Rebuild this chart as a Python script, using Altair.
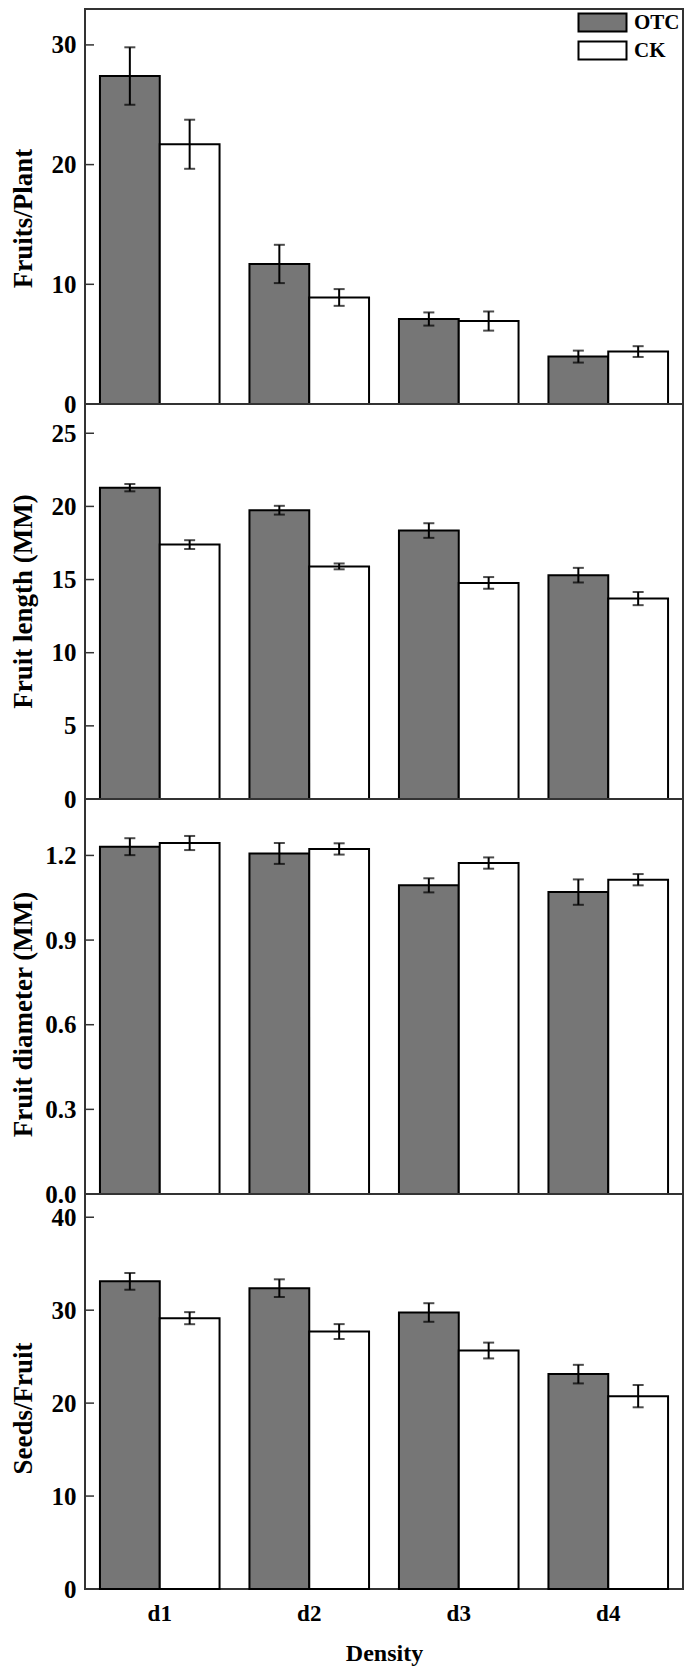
import altair as alt
import pandas as pd

FONT = "Liberation Serif"
GRAY = "#767676"

densities = ["d1", "d2", "d3", "d4"]
groups = ["OTC", "CK"]

fruits_otc = [27.4, 11.7, 7.1, 3.96]
fruits_otc_err = [2.4, 1.6, 0.55, 0.5]
fruits_ck = [21.7, 8.9, 6.93, 4.38]
fruits_ck_err = [2.05, 0.7, 0.8, 0.45]

length_otc = [21.28, 19.74, 18.35, 15.3]
length_otc_err = [0.25, 0.3, 0.5, 0.5]
length_ck = [17.39, 15.9, 14.77, 13.7]
length_ck_err = [0.3, 0.2, 0.4, 0.45]

diam_otc = [1.231, 1.207, 1.094, 1.070]
diam_otc_err = [0.03, 0.037, 0.025, 0.045]
diam_ck = [1.244, 1.223, 1.173, 1.114]
diam_ck_err = [0.025, 0.02, 0.02, 0.02]

seeds_otc = [33.1, 32.37, 29.75, 23.12]
seeds_otc_err = [0.9, 0.95, 1.0, 1.0]
seeds_ck = [29.14, 27.7, 25.66, 20.75]
seeds_ck_err = [0.65, 0.8, 0.85, 1.2]

titles = ["Fruits/Plant", "Fruit length (MM)", "Fruit diameter (MM)", "Seeds/Fruit"]
ymaxes = [33, 27, 1.4, 42.5]
tick_values = [[0, 10, 20, 30], [0, 5, 10, 15, 20, 25], [0.0, 0.3, 0.6, 0.9, 1.2], [0, 10, 20, 30, 40]]
formats = ["d", "d", ".1f", "d"]
title_ys = [209, 197, 215, 214]

series = [
    (fruits_otc, fruits_otc_err, fruits_ck, fruits_ck_err),
    (length_otc, length_otc_err, length_ck, length_ck_err),
    (diam_otc, diam_otc_err, diam_ck, diam_ck_err),
    (seeds_otc, seeds_otc_err, seeds_ck, seeds_ck_err),
]

W, H = 598, 395


def make_df(otc, otc_err, ck, ck_err):
    rows = []
    for i, d in enumerate(densities):
        rows.append({"density": d, "group": "OTC", "value": otc[i],
                     "lo": otc[i] - otc_err[i], "hi": otc[i] + otc_err[i]})
        rows.append({"density": d, "group": "CK", "value": ck[i],
                     "lo": ck[i] - ck_err[i], "hi": ck[i] + ck_err[i]})
    return pd.DataFrame(rows)


def panel(idx):
    df = make_df(*series[idx])
    first = idx == 0
    last = idx == 3
    title = titles[idx]
    yscale = alt.Scale(domain=[0, ymaxes[idx]], nice=False, zero=True)
    if last:
        xaxis = alt.Axis(title="Density", labelAngle=0, labelFontSize=23, labelPadding=13,
                         titleFontSize=24, titlePadding=16)
    else:
        xaxis = None
    x = alt.X("density:N", sort=densities,
              scale=alt.Scale(paddingInner=0.2, paddingOuter=0.1), axis=xaxis)
    xo = alt.XOffset("group:N", sort=groups,
                     scale=alt.Scale(domain=groups, paddingInner=0, paddingOuter=0))
    yaxis = alt.Axis(values=tick_values[idx], format=formats[idx], title=title,
                     titleX=-48, titleY=title_ys[idx], labelPadding=9)
    if first:
        legend = alt.Legend(title=None, orient="top-right", offset=3, padding=0,
                            symbolType="M-2.667,-1H2.667V1H-2.667Z", symbolSize=324,
                            symbolOffset=15,
                            symbolStrokeColor="black", symbolStrokeWidth=2,
                            labelFont=FONT, labelFontSize=21, labelFontWeight="bold",
                            labelColor="black", labelOffset=21, rowPadding=1)
    else:
        legend = None
    color = alt.Color("group:N", sort=groups,
                      scale=alt.Scale(domain=groups, range=[GRAY, "white"]), legend=legend)
    base = alt.Chart(df)
    bars = base.mark_bar(stroke="black", strokeWidth=2).encode(
        x=x, xOffset=xo, y=alt.Y("value:Q", scale=yscale, axis=yaxis), color=color)
    rules = base.mark_rule(color="black", strokeWidth=2).encode(
        x=x, xOffset=xo, y=alt.Y("lo:Q", scale=yscale, title=title), y2="hi:Q")
    cap_lo = base.mark_tick(color="black", thickness=2, size=11).encode(
        x=x, xOffset=xo, y=alt.Y("lo:Q", scale=yscale, title=title))
    cap_hi = base.mark_tick(color="black", thickness=2, size=11).encode(
        x=x, xOffset=xo, y=alt.Y("hi:Q", scale=yscale, title=title))
    tdf = pd.DataFrame({"t": tick_values[idx]})
    inticks = alt.Chart(tdf).mark_rule(color="#333", strokeWidth=1.5).encode(
        y=alt.Y("t:Q", scale=yscale, title=title), x=alt.value(0), x2=alt.value(9))
    return alt.layer(bars, rules, cap_lo, cap_hi, inticks).properties(width=W, height=H)


chart = (
    alt.vconcat(*[panel(i) for i in range(4)], spacing=0, bounds="flush")
    .resolve_scale(y="independent", color="independent")
    .resolve_legend(color="independent")
    .properties(padding={"left": 0, "top": 0, "right": 5, "bottom": 0})
    .configure_view(stroke="#333", strokeWidth=2)
    .configure_axis(labelFont=FONT, labelFontWeight="bold", labelColor="black", labelFontSize=25,
                    titleFont=FONT, titleFontWeight="bold", titleColor="black", titleFontSize=27,
                    ticks=False, tickSize=0, domain=False, grid=False)
)

chart.save("out.html", embed_options={"renderer": "svg", "actions": False})
